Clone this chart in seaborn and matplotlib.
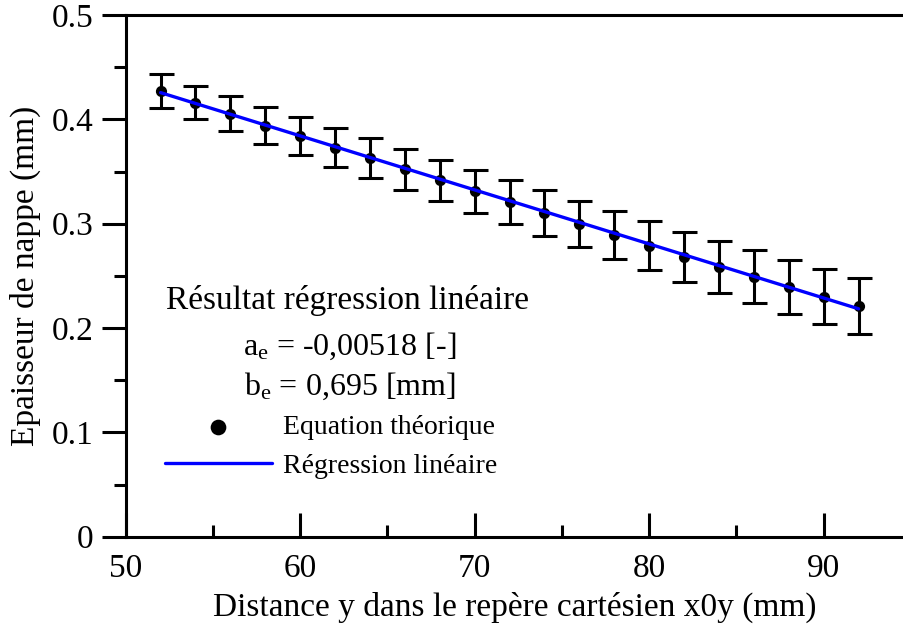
import numpy as np
import pandas as pd
import matplotlib
matplotlib.use("Agg")
import matplotlib.pyplot as plt
import seaborn as sns

# ---- data ----
x_mm = [52, 54, 56, 58, 60, 62, 64, 66, 68, 70, 72, 74, 76, 78, 80, 82, 84, 86, 88, 90, 92]
epaisseur = [0.427, 0.416, 0.4055, 0.394, 0.384, 0.373, 0.363, 0.352, 0.3415, 0.331, 0.3205,
             0.3105, 0.300, 0.289, 0.279, 0.268, 0.2585, 0.249, 0.2395, 0.230, 0.221]
erreur = [0.016, 0.016, 0.017, 0.0177, 0.018, 0.019, 0.0195, 0.020, 0.020, 0.0206, 0.021,
          0.022, 0.022, 0.0227, 0.0233, 0.024, 0.0247, 0.0254, 0.026, 0.0263, 0.027]
reg_x = [52, 92]
reg_y = [0.4256, 0.2184]

x_ticks = [50, 60, 70, 80, 90]
y_ticks = [0, 0.1, 0.2, 0.3, 0.4, 0.5]
y_ticklabels = ["0", "0.1", "0.2", "0.3", "0.4", "0.5"]

df_pts = pd.DataFrame({"x": x_mm, "y": epaisseur})
df_reg = pd.DataFrame({"x": reg_x, "y": reg_y})

sns.set_theme(style="ticks")
plt.rcParams["font.family"] = ["Liberation Serif", "DejaVu Serif"]
plt.rcParams["mathtext.fontset"] = "custom"
plt.rcParams["mathtext.rm"] = "Liberation Serif"
plt.rcParams["mathtext.it"] = "Liberation Serif:italic"
plt.rcParams["text.color"] = "black"
plt.rcParams["axes.labelcolor"] = "black"
plt.rcParams["xtick.color"] = "black"
plt.rcParams["ytick.color"] = "black"

W, H = 904, 630
fig = plt.figure(figsize=(W / 100, H / 100), dpi=100)
left, right, top, bottom = 125.7, 904, 15, 536.7
ax = fig.add_axes([left / W, 1 - bottom / H, (right - left) / W, (bottom - top) / H])

ax.errorbar(x_mm, epaisseur, yerr=erreur, fmt="none", ecolor="black",
            elinewidth=2.2, capsize=9, capthick=2.2, zorder=2)
sns.scatterplot(data=df_pts, x="x", y="y", ax=ax, color="black", s=65,
                edgecolor="black", linewidth=0, zorder=3, label="Equation théorique")
sns.lineplot(data=df_reg, x="x", y="y", ax=ax, color="#0000ff", linewidth=2.4,
             zorder=4, label="Régression linéaire")

ax.set_xlim(50, 50 + (right - left) / 17.45)
ax.set_ylim(0, 0.5)
ax.set_xticks(x_ticks)
ax.set_xticks([55, 65, 75, 85], minor=True)
ax.set_yticks(y_ticks)
ax.set_yticklabels(y_ticklabels)
ax.set_yticks([0.05, 0.15, 0.25, 0.35, 0.45], minor=True)

for s in ["left", "bottom", "top"]:
    ax.spines[s].set_linewidth(2.2)
    ax.spines[s].set_color("black")
ax.spines["right"].set_visible(False)

ax.tick_params(axis="x", which="major", direction="in", length=17, width=2.2,
               labelsize=24, pad=12, colors="black")
ax.tick_params(axis="x", which="minor", direction="in", length=9, width=2.2)
ax.tick_params(axis="y", which="major", direction="out", length=17, width=2.2,
               labelsize=24, pad=6, colors="black")
ax.tick_params(axis="y", which="minor", direction="out", length=9, width=2.2)

ax.set_xlabel("Distance y dans le repère cartésien x0y (mm)", fontsize=24, labelpad=6)
ax.set_ylabel("Epaisseur de nappe (mm)", fontsize=24, labelpad=8)

# annotation block
fig.text(348 / W, 1 - 300 / H, "Résultat régression linéaire", fontsize=24,
         ha="center", va="center")
fig.text(350 / W, 1 - 355 / H, r"a$_{\rm e}$ = -0,00518 [-]", fontsize=23,
         ha="center", va="baseline")
fig.text(350 / W, 1 - 395 / H, r"b$_{\rm e}$ = 0,695 [mm]", fontsize=23,
         ha="center", va="baseline")

handles, labels = ax.get_legend_handles_labels()
leg = ax.legend(handles, labels, loc="upper left",
                bbox_to_anchor=(165 / W, 1 - 415 / H), bbox_transform=fig.transFigure,
                frameon=False, fontsize=20, handlelength=3.85, handletextpad=0.4,
                labelspacing=0.47, borderpad=0, borderaxespad=0, markerscale=1.4)

fig.savefig("out.png", dpi=100)
